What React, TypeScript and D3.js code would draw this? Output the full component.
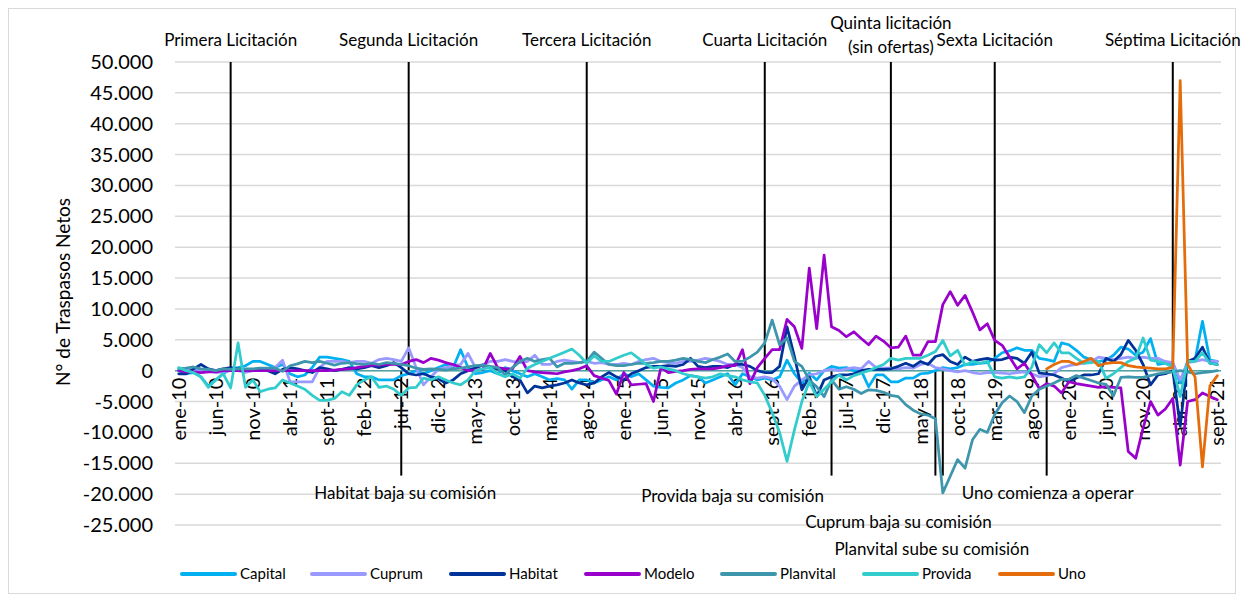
import React from 'react';
import * as d3 from 'd3';

// Monthly categories ene-10 .. sept-21
const monthNames = ['ene', 'feb', 'mar', 'abr', 'may', 'jun', 'jul', 'ago', 'sept', 'oct', 'nov', 'dic'];
const categories: string[] = [];
for (let yr = 10; yr <= 21; yr++) {
  for (let m = 0; m < 12; m++) {
    if (yr === 21 && m > 8) break;
    categories.push(`${monthNames[m]}-${yr}`);
  }
}

// Values in thousands of net transfers
const capital = [
  0, -0.5, -0.3, -1, -2.5, -1.5, -0.5, 0.3, 0.5, 0.8,
  1.5, 1.5, 1, 0.5, 1, -0.5, -1, -0.7, 0.5, 2.2,
  2.2, 2, 1.8, 1.5, -0.5, -1, -1, -1.5, -1.5, -1.5,
  -0.8, -0.5, 0, -0.5, 0, 0.5, 1, 0.5, 3.4, 0.5,
  -0.5, -0.3, 0, -0.5, 0.5, 0, -0.5, -1, -0.5, -1,
  -1.5, -1.3, -1.5, -3, -1.5, -1.5, -2, -1.5, -1, -1.5,
  -0.5, -1, -0.5, -1.5, -2.5, -2.7, -2.8, -2, -1.5, -0.8,
  -1, -2, -1.5, -1, -0.5, -2.3, -0.5, -1, -1.5, -1.2,
  -1.5, -1, 1.7, -0.5, -2, -0.4, -1.5, 0, 0.7, 0.4,
  0.5, 0, 0, -2.6, -0.7, -0.7, -1.8, -1.8, -1.2, -1.2,
  -0.5, -0.4, 0, 0.5, 0.3, 0.5, 1, 1, 1.2, 1.3,
  2, 2.9, 3.2, 3.7, 3.3, 3.3, 2, 1.8, 1.5, 4.5,
  4.2, 3.3, 2.2, 1.8, 1.5, 1.7, 2.5, 3.8, 3.5, 2.5,
  3, 5.2, 1, 1.2, 1.2, -2, 1.5, 1.7, 8, 1.7, 1.5
];

const cuprum = [
  0, 0.3, 0, 0.2, 0, -0.3, -0.2, 0, 0, -0.3,
  0, 0.2, 0.3, 0.5, 1.7, -1.8, -1.8, -1.8, -1.8, 0.5,
  1.5, 1.5, 1.5, 1.3, 1.5, 1.5, 1.2, 1.8, 2, 1.8,
  1.5, 3.7, 0.5, -2.3, -1, 0.2, 0.5, 0.8, 1, 2.8,
  0.5, 1, 1.5, 1.5, 1.8, 1.5, 1.3, 1.5, 2.5, 1,
  1, 1.5, 1.7, 1.5, 1.3, 1.5, 1.2, 1.3, 1, 1,
  1.2, 1, 1.5, 1.8, 2, 1.5, 1.3, 1.2, 1.5, 1.5,
  1.7, 2, 1.8, 1.5, 1, 1, 0.5, -1, -1.2, -1,
  -1.3, -2.5, -4.7, -2.5, -1.5, -0.7, -0.5, 0, 0.2, 0,
  0.3, 0.5, 0.3, 1.5, 0.5, 0.4, 0.4, 0.3, 0.5, 0.4,
  1, 1.2, 0.5, 0.3, 0, -0.2, 0, -0.3, -0.5, -0.3,
  -0.3, -0.4, -0.5, -0.3, -0.2, -0.5, -1, -0.8, -0.5, 0.5,
  0.8, 1, 1.2, 1.5, 2.2, 2, 1.8, 2, 2.2, 2,
  2.2, 2, 2, 1.5, 1.3, -1.5, 1.3, 1.5, 1.8, 1.5, 1.5
];

const habitat = [
  -0.5, -0.5, 0.3, 1, 0.3, 0, 0.3, 0.5, 0.3, 0,
  0, 0.3, 0, -0.5, 0.2, 0.5, 0.3, 0, -0.3, 0.5,
  0.3, 0, 0.2, 0.5, 0.3, 0.5, 0.8, 0.5, 0.8, 1.3,
  0.5, -0.5, -0.7, -0.5, -1, -1.3, -2, -1.5, -0.5, 0,
  0.5, 0.9, 0.5, 0.3, 0, -1, -1.5, -3.6, -2.5, -2.8,
  -2.5, -2.3, -2, -1.5, -2, -2.3, -2, -1, -0.3, -1,
  -1.5, -0.5, 0, 0.5, 0.7, 0.7, 0.8, 0.7, 1, 2,
  0.7, 0.5, 0.7, 0.7, 0.5, 1, 1, 0.7, 0, -0.3,
  -0.3, 0.7, 7.1, 2.3, -3.1, -1, -4.2, -1.5, -1, -0.7,
  -0.7, -0.5, 0, 0.2, 0.2, 0.2, 0.3, 0.7, 1.2, 0.7,
  1.5, 1, 2.3, 2.6, 1.5, 1, 2.2, 1.5, 1.8, 2,
  1.7, 1.8, 2.2, 2, 1.2, 3, -0.4, -0.5, -0.7, -1.2,
  -1.8, -1.2, -0.7, -0.7, -0.5, 2, 1.5, 2.6, 4.9, 3.3,
  1, -2.3, -0.7, -0.5, 0, -9, 1.5, 2, 3.8, 1.2, 1
];

const modelo = [
  0, -0.2, -0.2, -0.3, -0.2, -0.2, 0, 0, 0, 0,
  0, 0, 0, 0, 0, 0, 0, 0, 0, 0,
  0, 0.1, 0.2, 0.3, 0.5, 0.7, 0.9, 0.9, 1, 1,
  1, 1.5, 1.8, 1.3, 2, 1.7, 1.3, 1, 0.5, 0,
  0.1, 0.2, 2.8, 0.5, 0.3, 0.3, 2.3, 0, -0.2, -0.3,
  -0.4, -0.5, -0.2, 0, 0.3, 0.8, -0.8, -1.2, -1.6, -3.8,
  -0.3, -2.3, -2.2, -2.1, -5, 0.5, -0.3, -0.1, 0, 0.2,
  0.3, 0.3, 0.3, 0.5, 0.8, 0.8, 3.4, -2.1, 0.5, 2,
  3.4, 3.4, 8.3, 7.1, 3.6, 16.6, 6.8, 18.7, 7.1, 6.5,
  5.5, 6.3, 5.2, 4.2, 5.6, 4.8, 3.7, 3.8, 5.6, 2.5,
  2.5, 4.7, 4.7, 10.7, 12.8, 10.6, 12.2, 9.5, 6.6, 7.6,
  4.9, 4.1, 2.2, 0.3, 1.2, -0.7, -2.9, -2.1, -2.5, -3.6,
  -1.8, -2.1, -2.3, -2.5, -2.7, -2.6, -2.7, -2.8, -13.1, -14.2,
  -9.3, -5, -7.2, -6.2, -4.5, -15.3, -5, -4.7, -3.6, -4.2, -4.7
];

const planvital = [
  0.3, 0.4, 0.6, 0.3, 0.2, 0, 0.3, 0.2, 0.3, 0.3,
  0.3, 0.4, 0.4, 0.4, -0.1, 0.8, 1.1, 1.5, 1.3, 1.5,
  1.2, 0.9, 1.2, 1.3, 1.1, 1, 1.2, 1, 1.3, 1.2,
  1, 0.8, 0.4, 0.2, 0.3, 0.2, 0.1, 0.3, 0.4, 0.6,
  0.8, 0.9, 0.7, 0.5, -0.7, 0.5, 1.5, 2, 1.5, 1.8,
  2, 0.6, 1.2, 1.2, 1.3, 1.5, 3, 2, 1, 0.8,
  0.8, 1, 1.2, 1.2, 1.3, 1.5, 1.5, 1.7, 2, 1.8,
  1.5, 1.3, 1.8, 2.2, 2.7, 1.5, 1.5, 2.2, 3, 4.5,
  8.2, 4.2, 5.3, 1.5, 0.7, -1.5, -2.6, -4.2, -1.5, -3,
  -2.6, -3, -3.7, -3.1, -3.2, -3.5, -4, -4.2, -5.5, -6.4,
  -7, -7.2, -7.8, -19.8, -17.1, -14.4, -15.8, -11.2, -9.5, -10,
  -7.1, -5.2, -4.1, -5, -6.8, -4.1, -3, -2.5, -2, -1.4,
  -1.4, -0.8, -1.2, -1.6, -2, -2.2, -4.1, -1.1, -1, -1.1,
  -1.1, -0.8, -0.5, -0.3, -0.2, 0, -0.2, -0.5, -0.3, -0.2, 0
];

const provida = [
  0.5, 0, -0.3, -1, -2.7, -1.5, -0.5, -2.8, 4.5, -2.7,
  -1.5, -3.4, -3, -2.8, -1.5, -2, -2.5, -3, -4, -4.8,
  -4.8, -4.5, -3.4, -4, -2.3, -1.5, -1, -2.7, -2.5, -3,
  -4, -2.8, -2.7, -1.2, -1.5, -1, -1.5, -2, -2.3, -1.5,
  0, 0.3, 0.5, -0.5, -1, -0.5, -1.2, 0.4, 1, 1.5,
  2, 2.5, 3, 3.5, 2.5, 1.2, 2.4, 1.5, 1.5, 2,
  2.5, 2.9, 2, 1, 0.4, 0.6, 0.3, 0, -0.5, -0.8,
  -1, -1.2, -1, -0.5, -0.8, -1, -1.5, -1.8, -2, -4,
  -6.8, -10, -14.7, -9.6, -5, -1.8, -4.2, -3, -1.8, -0.7,
  -1.5, -0.8, -0.4, 0, 0.5, 1, 2, 1.7, 2, 2,
  2, 2.5, 3.1, 4.9, 2.4, 3.3, 0.9, 1.5, 1.2, 1.5,
  -1, -1.2, -1, -1.2, -1, 0.6, 4.2, 2.9, 4.5, 2.9,
  2.9, 2, 1.2, 1.3, 1.5, -1.2, -0.5, 0.5, 1.5, 2,
  5.3, 1.7, 1.5, 1.2, 0.5, -4.2, 1.5, 1.5, 2.9, 1.2, 1
];

// Uno starts operating in oct-19 (index 117)
const uno: (number | null)[] = [
  ...new Array(117).fill(null),
  0.3, 1, 1.5,
  1.5, 1, 1.5, 2, 0.8, 1.2, 1.3, 1.3, 0.8, 0.6,
  0.5, 0.4, 0.3, 0.3, 0.5, 47, 1, -1, -15.6, -2.5, -0.8
];

const seriesNames = ['Capital', 'Cuprum', 'Habitat', 'Modelo', 'Planvital', 'Provida', 'Uno'];
const seriesColors = ['#00B0F0', '#9999FF', '#003399', '#9900CC', '#3E96AD', '#33CCCC', '#E46C0A'];
const seriesData = [capital, cuprum, habitat, modelo, planvital, provida, uno];

// Tender events (category index) drawn above zero
const tenderIdx = [7, 31, 55, 79, 96, 110, 134];
const tenderLabels = [
  ['Primera Licitación'],
  ['Segunda Licitación'],
  ['Tercera Licitación'],
  ['Cuarta Licitación'],
  ['Quinta licitación', '(sin ofertas)'],
  ['Sexta Licitación'],
  ['Séptima Licitación']
];

// Commission events drawn below zero
const eventIdx = [30, 88, 102, 103, 117];
const eventLabels = [
  'Habitat baja su comisión',
  'Provida baja su comisión',
  'Cuprum baja su comisión',
  'Planvital sube su comisión',
  'Uno comienza a operar'
];

const yTicks = d3.range(-25000, 50001, 5000);

const W = 1244;
const H = 602;
const FONT = 'Lato, "Open Sans", sans-serif';

const locale = d3.formatLocale({ decimal: ',', thousands: '.', grouping: [3], currency: ['$', ''], minus: '-' });
const fmt = locale.format(',.0f');

const App: React.FC = () => {
  const x = d3.scalePoint<number>()
    .domain(d3.range(categories.length))
    .range([175, 1221])
    .padding(0.5);

  const y = d3.scaleLinear()
    .domain([-25000, 50000])
    .range([525, 62]);

  const line = d3.line<number | null>()
    .defined(d => d != null)
    .x((d, i) => x(i) as number)
    .y(d => y((d as number) * 1000));

  const y0 = y(0);

  // where each annotation label sits relative to its line
  const eventLabelPos = [
    { dx: 4, y: 499 },
    { dx: -99, y: 502 },
    { dx: -37, y: 528 },
    { dx: -11, y: 555 },
    { dx: 1, y: 499 }
  ];

  const legendX = [182, 312, 451, 586, 722, 864, 1000];

  return (
    <svg width={W} height={H} style={{ position: 'absolute', left: 0, top: 0, background: '#fff' }}
      fontFamily={FONT}>
      <rect x={8.5} y={8.5} width={1227} height={585} fill="#fff" stroke="#d9d9d9" />

      {/* gridlines */}
      {yTicks.map(t => (
        <line key={t} x1={175} x2={1221} y1={y(t)} y2={y(t)} stroke="#d9d9d9" strokeWidth={1.5} />
      ))}

      {/* y tick labels */}
      {yTicks.map(t => (
        <text key={'l' + t} x={153} y={y(t)} dy="0.35em" textAnchor="end" fontSize={20} fill="#000">
          {fmt(t)}
        </text>
      ))}

      <text transform={`translate(63,292) rotate(-90)`} textAnchor="middle" dy="0.35em" fontSize={19} fill="#000">
        N° de Traspasos Netos
      </text>

      {/* tender lines */}
      {tenderIdx.map((idx, k) => (
        <g key={'t' + k}>
          <line x1={x(idx)} x2={x(idx)} y1={y(50000)} y2={y0} stroke="#000" strokeWidth={2} />
          {tenderLabels[k].length === 1 ? (
            <text x={x(idx)} y={46} textAnchor="middle" fontSize={17}>{tenderLabels[k][0]}</text>
          ) : (
            <>
              <text x={x(idx)} y={29} textAnchor="middle" fontSize={17}>{tenderLabels[k][0]}</text>
              <text x={x(idx)} y={53} textAnchor="middle" fontSize={17}>{tenderLabels[k][1]}</text>
            </>
          )}
        </g>
      ))}

      {/* commission event lines */}
      {eventIdx.map((idx, k) => (
        <g key={'e' + k}>
          <line x1={x(idx)} x2={x(idx)} y1={y0} y2={y(-17000)} stroke="#000" strokeWidth={2} />
          <text x={(x(idx) as number) + eventLabelPos[k].dx} y={eventLabelPos[k].y} textAnchor="middle" fontSize={17}>
            {eventLabels[k]}
          </text>
        </g>
      ))}

      {/* zero axis */}
      <line x1={175} x2={1221} y1={y0} y2={y0} stroke="#4FA3A5" strokeWidth={1.5} />

      {/* x tick labels */}
      {categories.map((c, i) => i % 5 === 0 ? (
        <text key={c} transform={`translate(${x(i)},${y0 + 7}) rotate(-90)`} textAnchor="end" dy="0.35em"
          fontSize={20} fill="#000">{c}</text>
      ) : null)}

      {/* series */}
      {seriesData.map((s, k) => (
        <path key={seriesNames[k]} d={line(s as (number | null)[]) || ''} fill="none"
          stroke={seriesColors[k]} strokeWidth={2.75} strokeLinejoin="round" strokeLinecap="round" />
      ))}

      {/* legend */}
      {seriesNames.map((n, k) => (
        <g key={'lg' + n}>
          <line x1={legendX[k]} x2={legendX[k] + 53} y1={574} y2={574} stroke={seriesColors[k]}
            strokeWidth={4} strokeLinecap="round" />
          <text x={legendX[k] + 58} y={574} dy="0.35em" fontSize={15}>{n}</text>
        </g>
      ))}
    </svg>
  );
};

export default App;
